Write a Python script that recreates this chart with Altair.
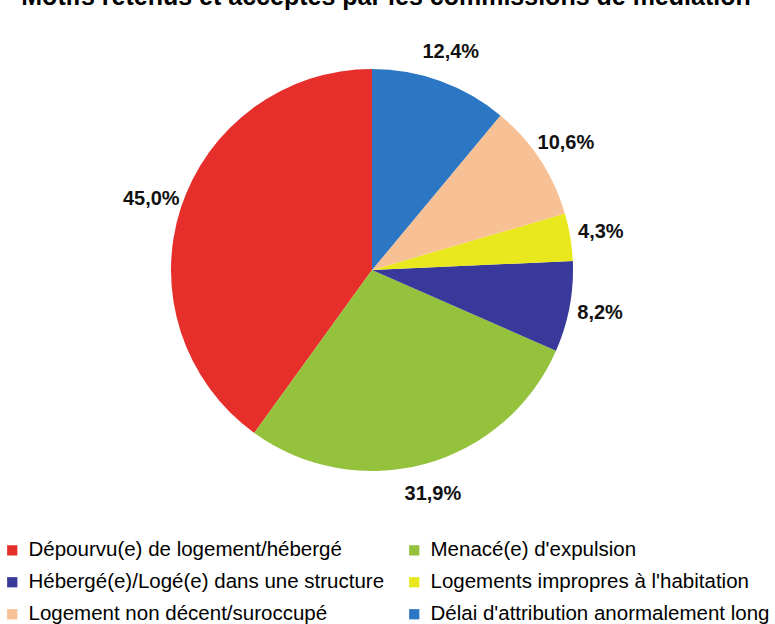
import altair as alt
import pandas as pd

categories = [
    "Dépourvu(e) de logement/hébergé",
    "Menacé(e) d'expulsion",
    "Hébergé(e)/Logé(e) dans une structure",
    "Logements impropres à l'habitation",
    "Logement non décent/suroccupé",
    "Délai d'attribution anormalement long",
]
values = [45.0, 31.9, 8.2, 4.3, 10.6, 12.4]
labels = ["45,0%", "31,9%", "8,2%", "4,3%", "10,6%", "12,4%"]
# clockwise order from 12 o'clock
slice_order = [6, 5, 4, 3, 2, 1]
colors = ["#E62E2B", "#94C23D", "#38399A", "#E9E81E", "#F8C095", "#2C77C4"]
title_text = "Motifs retenus et acceptés par les commissions de médiation"

df = pd.DataFrame({
    "cat": categories,
    "val": values,
    "lab": labels,
    "ord": slice_order,
})

cx, cy = 372, 270

base = alt.Chart(df).encode(
    theta=alt.Theta("val:Q", stack=True),
    order=alt.Order("ord:Q", sort="ascending"),
    x=alt.value(cx),
    y=alt.value(cy),
)

pie = base.mark_arc(radius=201, stroke=None).encode(
    color=alt.Color(
        "cat:N",
        scale=alt.Scale(domain=categories, range=colors),
        legend=alt.Legend(
            title=None,
            orient="none",
            legendX=2,
            legendY=540,
            columns=2,
            direction="horizontal",
            symbolType="square",
            symbolSize=105,
            symbolStrokeWidth=0,
            labelFont="Liberation Sans",
            labelFontSize=20.5,
            labelColor="#000000",
            labelLimit=420,
            labelOffset=6,
            rowPadding=11,
            columnPadding=19,
        ),
    )
)

text = base.mark_text(
    radius=232,
    font="Liberation Sans",
    fontSize=20,
    fontWeight="bold",
    color="#111111",
).encode(text="lab:N")

title = alt.Chart(pd.DataFrame({"t": [title_text]})).mark_text(
    font="Liberation Sans",
    fontSize=25,
    fontWeight="bold",
    color="#000000",
    baseline="alphabetic",
    align="center",
).encode(text="t:N", x=alt.value(386), y=alt.value(5))

chart = alt.layer(pie, text, title).properties(
    width=775,
    height=624,
    padding=0,
    autosize=alt.AutoSizeParams(type="none"),
    background="white",
).configure_view(stroke=None)

chart.save("out.html", embed_options={"renderer": "svg", "actions": False})
